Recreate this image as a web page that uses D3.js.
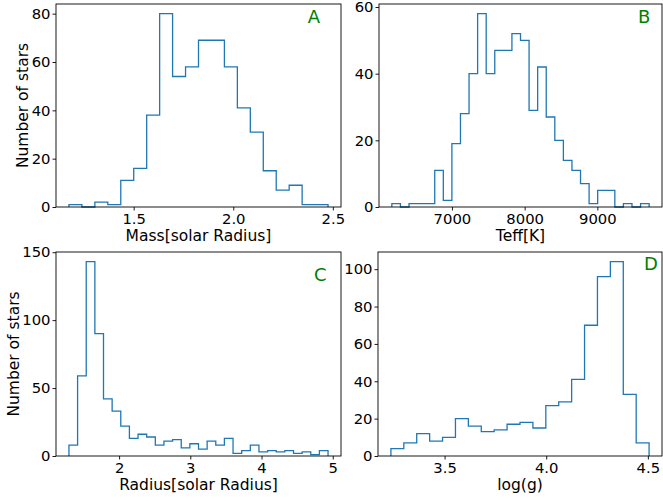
<!DOCTYPE html>
<html>
<head>
<meta charset="utf-8">
<script src="https://cdn.jsdelivr.net/npm/d3@7"></script>
<style>
  body { margin: 0; background: #fff; }
  svg { display: block; font-family: "DejaVu Sans", sans-serif; }
</style>
</head>
<body>
<div id="chart"></div>
<script>
// counts, one array per panel
const massRange = [1.175, 2.476];
const massCounts = [1, 0, 2, 1, 11, 16, 38, 80, 54, 58, 69, 69, 58, 41, 31, 15, 7, 9, 1, 1];
const massTicks = [1.5, 2.0, 2.5];

const teffRange = [6174, 9712];
const teffCounts = [1, 0, 1, 1, 1, 11, 2, 19, 28, 40, 58, 40, 47, 47, 52, 50, 29, 42, 27, 20,
                    14, 11, 7, 1, 5, 5, 0, 1, 0, 1];
const teffTicks = [7000, 8000, 9000];

const radiusRange = [1.296, 4.934];
const radiusCounts = [8, 59, 143, 90, 42, 33, 22, 13, 16, 14, 8, 11, 12, 6, 9, 5, 11, 8, 13, 2,
                      4, 8, 3, 4, 3, 4, 2, 3, 1, 4];
const radiusTicks = [2, 3, 4, 5];

const loggRange = [3.236, 4.506];
const loggCounts = [4, 7, 12, 8, 10, 20, 16, 13, 14, 17, 18, 15, 27, 29, 41, 70, 96, 104, 33, 7];
const loggTicks = [3.5, 4.0, 4.5];

const panels = [
  {range: massRange, counts: massCounts, xticks: massTicks, yticks: [0, 20, 40, 60, 80],
   fmt: d3.format('.1f'), xlabel: 'Mass[solar Radius]', ylabel: 'Number of stars', ylabelX: 28,
   tag: 'A', tagPos: [0.883, 0.905], box: {l: 56, r: 341, t: 4, b: 207}},
  {range: teffRange, counts: teffCounts, xticks: teffTicks, yticks: [0, 20, 40, 60],
   fmt: d3.format('d'), xlabel: 'Teff[K]', ylabel: null,
   tag: 'B', tagPos: [0.915, 0.906], box: {l: 379, r: 662, t: 4, b: 207}},
  {range: radiusRange, counts: radiusCounts, xticks: radiusTicks, yticks: [0, 50, 100, 150],
   fmt: d3.format('d'), xlabel: 'Radius[solar Radius]', ylabel: 'Number of stars', ylabelX: 19,
   tag: 'C', tagPos: [0.905, 0.858], box: {l: 56, r: 341, t: 252, b: 456}},
  {range: loggRange, counts: loggCounts, xticks: loggTicks, yticks: [0, 20, 40, 60, 80, 100],
   fmt: d3.format('.1f'), xlabel: 'log(g)', ylabel: null,
   tag: 'D', tagPos: [0.937, 0.912], box: {l: 378, r: 662, t: 252, b: 456}}
];

const W = 663, H = 501;
const svg = d3.select('#chart').append('svg')
  .attr('width', W)
  .attr('height', H);

panels.forEach(p => {
  const {l, r, t, b} = p.box;
  const n = p.counts.length;
  const step = (p.range[1] - p.range[0]) / n;
  const edges = d3.range(n + 1).map(i => p.range[0] + i * step);
  const span = p.range[1] - p.range[0];

  // matplotlib style 5% margins on x, 0..max*1.05 on y
  const x = d3.scaleLinear()
    .domain([p.range[0] - 0.05 * span, p.range[1] + 0.05 * span])
    .range([l, r]);
  const y = d3.scaleLinear()
    .domain([0, d3.max(p.counts) * 1.05])
    .range([b, t]);

  const g = svg.append('g');

  // step outline
  const pts = [[edges[0], 0]];
  p.counts.forEach((c, i) => { pts.push([edges[i], c]); pts.push([edges[i + 1], c]); });
  pts.push([edges[n], 0]);
  g.append('path')
    .attr('d', d3.line().x(d => x(d[0])).y(d => y(d[1]))(pts))
    .attr('fill', 'none')
    .attr('stroke', '#1f77b4')
    .attr('stroke-width', 1.3);

  // frame
  g.append('rect')
    .attr('x', l).attr('y', t)
    .attr('width', r - l).attr('height', b - t)
    .attr('fill', 'none')
    .attr('stroke', '#000')
    .attr('stroke-width', 0.9);

  const xAxis = g.append('g')
    .attr('transform', `translate(0,${b})`)
    .call(d3.axisBottom(x).tickValues(p.xticks).tickFormat(p.fmt).tickSize(3.5).tickPadding(3));
  const yAxis = g.append('g')
    .attr('transform', `translate(${l},0)`)
    .call(d3.axisLeft(y).tickValues(p.yticks).tickSize(3.5).tickPadding(2));
  [xAxis, yAxis].forEach(a => {
    a.select('.domain').remove();
    a.selectAll('line').attr('stroke', '#000').attr('stroke-width', 0.9);
    a.selectAll('text')
      .attr('fill', '#000')
      .style('font-size', '14.8px')
      .style('font-family', '"DejaVu Sans", sans-serif');
  });

  g.append('text')
    .attr('x', (l + r) / 2)
    .attr('y', b + 34)
    .attr('text-anchor', 'middle')
    .style('font-size', '15.5px')
    .text(p.xlabel);

  if (p.ylabel) {
    const cy = (t + b) / 2;
    g.append('text')
      .attr('transform', `translate(${p.ylabelX},${cy}) rotate(-90)`)
      .attr('text-anchor', 'middle')
      .style('font-size', '15.5px')
      .text(p.ylabel);
  }

  g.append('text')
    .attr('x', l + p.tagPos[0] * (r - l))
    .attr('y', b - p.tagPos[1] * (b - t))
    .attr('fill', '#008000')
    .style('font-size', '18px')
    .text(p.tag);
});
</script>
</body>
</html>
